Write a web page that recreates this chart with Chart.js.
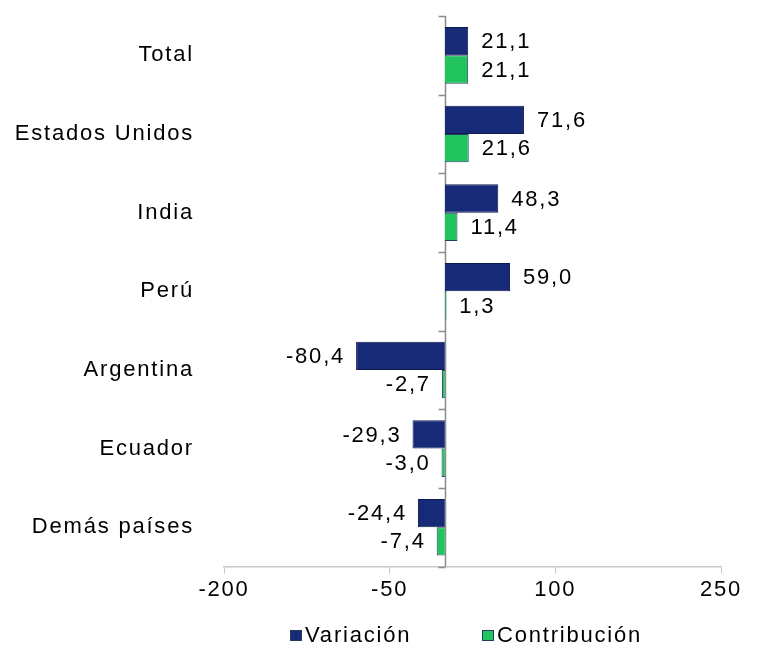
<!DOCTYPE html>
<html>
<head>
<style>
  body { margin: 0; background: #fff; }
</style>
<script src="https://cdn.jsdelivr.net/npm/chart.js"></script>
</head>
<body>
<canvas id="chart" width="764" height="646"></canvas>
<script>
var paises = ['Total', 'Estados Unidos', 'India', 'Perú', 'Argentina', 'Ecuador', 'Demás países'];
var variacion = [21.1, 71.6, 48.3, 59.0, -80.4, -29.3, -24.4];
var contribucion = [21.1, 21.6, 11.4, 1.3, -2.7, -3.0, -7.4];
var ticksX = [-200, -50, 100, 250];
var series = ['Variación', 'Contribución'];

var navy = '#172A78';
var green = '#22C460';

Chart.defaults.font.family = 'Arial, "Liberation Sans", sans-serif';
Chart.defaults.color = '#000';

function fmt(v) {
  return v.toFixed(1).replace('.', ',');
}

// wider letters, the original text is stretched
var spacing = {
  id: 'spacing',
  beforeDraw: function (chart) { chart.ctx.letterSpacing = '1.8px'; }
};

// vertical axis at zero with the small category ticks
var zeroAxis = {
  id: 'zeroAxis',
  beforeDatasetsDraw: function (chart) {
    var ctx = chart.ctx, x = chart.scales.x, y = chart.scales.y;
    var x0 = Math.round(x.getPixelForValue(0)) + 0.5;
    var n = paises.length;
    ctx.save();
    ctx.strokeStyle = '#8c8c8c';
    ctx.lineWidth = 1.5;
    ctx.beginPath();
    ctx.moveTo(x0, y.top);
    ctx.lineTo(x0, y.bottom);
    for (var i = 0; i <= n; i++) {
      var yy = Math.round(y.top + i * y.height / n) + 0.5;
      ctx.moveTo(x0 - 7, yy);
      ctx.lineTo(x0, yy);
    }
    ctx.stroke();
    ctx.restore();
  }
};

var valueLabels = {
  id: 'valueLabels',
  afterDatasetsDraw: function (chart) {
    var ctx = chart.ctx;
    ctx.save();
    ctx.font = '22px Arial, "Liberation Sans", sans-serif';
    ctx.fillStyle = '#000';
    ctx.textBaseline = 'middle';
    chart.data.datasets.forEach(function (ds, d) {
      chart.getDatasetMeta(d).data.forEach(function (bar, i) {
        var v = ds.data[i];
        if (v >= 0) {
          ctx.textAlign = 'left';
          ctx.fillText(fmt(v), bar.x + 13, bar.y + 1);
        } else {
          ctx.textAlign = 'right';
          ctx.fillText(fmt(v), bar.x - 11, bar.y + 1);
        }
      });
    });
    ctx.restore();
  }
};

var legendBox = {
  id: 'legendBox',
  afterDraw: function (chart) {
    var ctx = chart.ctx;
    var colors = [navy, green];
    var xs = [chart.width / 2 - 92, chart.width / 2 + 100];
    var yy = chart.height - 10;
    ctx.save();
    ctx.font = '22px Arial, "Liberation Sans", sans-serif';
    ctx.textBaseline = 'middle';
    ctx.textAlign = 'left';
    series.forEach(function (s, i) {
      ctx.fillStyle = colors[i];
      ctx.fillRect(xs[i], yy - 6, 12, 11);
      ctx.strokeStyle = '#2a3b55';
      ctx.lineWidth = 1;
      ctx.strokeRect(xs[i] + 0.5, yy - 5.5, 11, 10);
      ctx.fillStyle = '#000';
      ctx.fillText(s, xs[i] + 15, yy);
    });
    ctx.restore();
  }
};

new Chart(document.getElementById('chart'), {
  type: 'bar',
  data: {
    labels: paises,
    datasets: [{
      label: series[0],
      data: variacion,
      backgroundColor: navy,
      borderColor: '#0e1a4f',
      borderWidth: 1
    }, {
      label: series[1],
      data: contribucion,
      backgroundColor: green,
      borderColor: '#24405e',
      borderWidth: 1
    }]
  },
  options: {
    indexAxis: 'y',
    responsive: false,
    animation: false,
    datasets: { bar: { categoryPercentage: 0.72, barPercentage: 1.0 } },
    layout: { padding: { top: 16, right: 43, bottom: 40, left: 0 } },
    plugins: {
      legend: { display: false },
      tooltip: { enabled: false }
    },
    scales: {
      x: {
        min: -200,
        max: 250,
        afterBuildTicks: function (scale) {
          scale.ticks = ticksX.map(function (v) { return { value: v }; });
        },
        ticks: { font: { size: 22 }, padding: 3, maxRotation: 0 },
        grid: { drawOnChartArea: false, drawTicks: true, tickLength: 7, color: '#c8c8c8' },
        border: { color: '#c8c8c8', width: 1.5 }
      },
      y: {
        afterFit: function (scale) {
          scale.width = 224;
          scale.paddingTop = 0;
          scale.paddingBottom = 0;
        },
        ticks: { font: { size: 22 }, padding: 22 },
        grid: { display: false },
        border: { display: false }
      }
    }
  },
  plugins: [spacing, zeroAxis, valueLabels, legendBox]
});
</script>
</body>
</html>
